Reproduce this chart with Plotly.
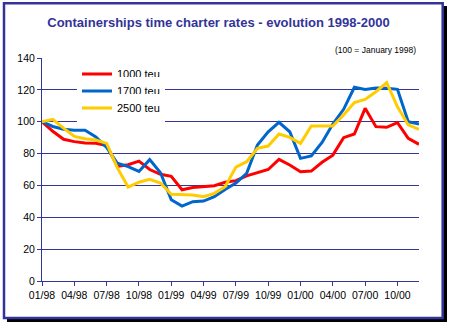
import plotly.graph_objects as go

# Monthly index, January 1998 = 100
months = [
    "01/98", "02/98", "03/98", "04/98", "05/98", "06/98", "07/98", "08/98", "09/98", "10/98", "11/98", "12/98",
    "01/99", "02/99", "03/99", "04/99", "05/99", "06/99", "07/99", "08/99", "09/99", "10/99", "11/99", "12/99",
    "01/00", "02/00", "03/00", "04/00", "05/00", "06/00", "07/00", "08/00", "09/00", "10/00", "11/00", "12/00",
]
rate_1000 = [100, 94, 89, 87.5, 86.6, 86.5, 85, 72, 73, 75.3, 70, 67,
             65.7, 57.3, 58.7, 59.4, 59.8, 62, 63, 66, 68, 70, 76.4, 72.8,
             68.6, 69, 74.5, 79, 90, 92.3, 108.4, 96.9, 96.5, 99.4, 89.6, 85.8]
rate_1700 = [100, 97, 95.3, 94.6, 94.6, 90.4, 83.8, 73.9, 71.8, 68.8, 76.2, 68,
             51, 47, 49.8, 50.2, 52.9, 57.5, 61.5, 67.6, 85.4, 93.7, 99.6, 93.7,
             77, 78.5, 87, 98.5, 107.8, 121.6, 120.3, 121.2, 121, 120.3, 100, 98.6]
rate_2500 = [100, 101.5, 96, 90.8, 89.3, 88.5, 86.4, 71, 59, 62, 63.8, 61.5,
             54.4, 54, 54, 52.9, 55, 59.2, 71.5, 74.9, 83.3, 84.7, 92.3, 90.2,
             86.4, 97.3, 97.3, 97.3, 104.2, 112, 114, 118.8, 124.5, 109.4, 98, 95.2]

series_names = ["1000 teu", "1700 teu", "2500 teu"]
series_values = [rate_1000, rate_1700, rate_2500]
series_colors = ["#FF0000", "#0066CC", "#FFCC00"]
legend_ids = ["legend", "legend2", "legend3"]

NAVY = "#333399"
FONT = "Liberation Sans, Arial, sans-serif"

W, H = 449, 325
L, R, T, B = 42, 30, 58, 44


def paper_x(px):
    return (px - L) / (W - L - R)


def paper_y(py):
    return (H - B - py) / (H - T - B)


fig = go.Figure()
for name, vals, color, lg in zip(series_names, series_values, series_colors, legend_ids):
    fig.add_trace(go.Scatter(
        x=months, y=vals, name=name, mode="lines",
        line=dict(color=color, width=3),
        legend=lg,
    ))

# legend rows, one per series, placed inside the plot area
legend_rows_y = [74, 91, 108]
legend_cfg = {}
for lg, py in zip(legend_ids, legend_rows_y):
    legend_cfg[lg] = dict(
        x=paper_x(77), y=paper_y(py), xref="paper", yref="paper",
        xanchor="left", yanchor="middle",
        bgcolor="white", borderwidth=0,
        font=dict(family=FONT, size=11, color="black"),
    )

# chart frame with drop shadow
shapes = [
    dict(type="rect", xref="paper", yref="paper", layer="below",
         x0=paper_x(7), x1=paper_x(447), y0=paper_y(6), y1=paper_y(322),
         fillcolor="black", line=dict(width=0)),
    dict(type="rect", xref="paper", yref="paper", layer="below",
         x0=paper_x(4), x1=paper_x(442.7), y0=paper_y(3.2), y1=paper_y(318),
         fillcolor="white", line=dict(color=NAVY, width=2.5)),
]

fig.update_layout(
    width=W, height=H,
    margin=dict(l=L, r=R, t=T, b=B, pad=0, autoexpand=False),
    paper_bgcolor="white",
    plot_bgcolor="rgba(0,0,0,0)",
    title=dict(
        text="<b>Containerships time charter rates - evolution 1998-2000</b>",
        x=218.5 / W, xanchor="center", y=1 - 22 / H, yanchor="middle",
        font=dict(family=FONT, size=13, color=NAVY),
    ),
    shapes=shapes,
    annotations=[dict(
        text="(100 = January 1998)", xref="paper", yref="paper",
        x=paper_x(420), y=paper_y(50), xanchor="right", yanchor="middle",
        showarrow=False, bgcolor="white", borderpad=3,
        font=dict(family=FONT, size=8.5, color="black"),
    )],
    xaxis=dict(
        type="category", range=[0, len(months) - 1],
        tickmode="linear", tick0=0, dtick=3, tickangle=0,
        showgrid=False, zeroline=False, automargin=False,
        showline=True, linecolor=NAVY, linewidth=1,
        ticks="outside", ticklen=4, tickwidth=1, tickcolor=NAVY,
        tickfont=dict(family=FONT, size=10.5, color="black"),
    ),
    yaxis=dict(
        range=[0, 140], tickmode="linear", tick0=0, dtick=20,
        showgrid=True, gridcolor=NAVY, gridwidth=1, zeroline=False,
        automargin=False,
        showline=True, linecolor=NAVY, linewidth=1,
        ticks="outside", ticklen=4, tickwidth=1, tickcolor=NAVY,
        tickfont=dict(family=FONT, size=10.5, color="black"),
    ),
    showlegend=True,
    hovermode=False,
    **legend_cfg,
)

fig.write_html("out.html")
